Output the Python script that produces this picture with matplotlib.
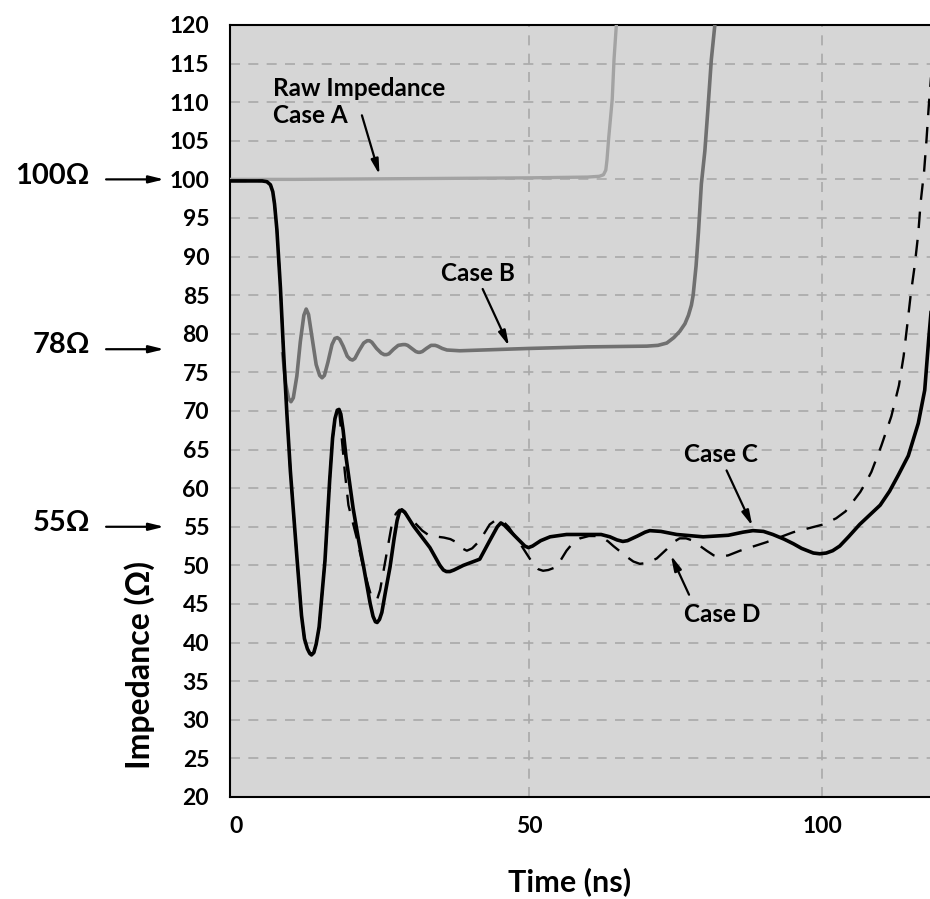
import matplotlib
matplotlib.use("Agg")
import matplotlib.pyplot as plt

plt.rcParams['font.family'] = ['Lato', 'DejaVu Serif']
plt.rcParams['font.weight'] = 'bold'

# Case A - raw impedance, 100 ohm line
case_a_t = [-1, 10, 30, 50, 60, 62.0, 62.7, 63.1, 63.3, 63.6, 64.2, 64.5, 64.9]
case_a_z = [100, 100, 100.1, 100.2, 100.3, 100.4, 100.6, 101.2, 102.5, 105.4, 110.4, 115.5, 120]

# Case B - 78 ohm line
case_b_t = [8.0, 8.5, 9.0, 9.4, 9.8, 10.4, 11.0, 11.6, 12.0, 12.4, 13.0, 13.7, 14.3, 14.7,
            15.1, 15.7, 16.4, 16.9, 17.3, 17.7, 18.3, 19.0, 19.5, 19.9, 20.3, 21.0, 21.8,
            22.4, 22.8, 23.2, 24.0, 24.8, 25.3, 25.7, 26.1, 26.9, 27.7, 28.5, 28.9, 29.3,
            30.0, 30.7, 31.1, 31.4, 31.8, 32.5, 33.3, 33.7, 34.0, 34.4, 35.2, 36.0, 38.2,
            50, 60, 70.1, 72.0, 73.5, 74.7, 75.7, 76.6, 77.2, 77.7, 78.0, 78.5, 78.9, 79.4,
            80.0, 80.5, 81.1, 81.7]
case_b_z = [77.4, 73.5, 71.6, 71.2, 71.7, 74.5, 79.0, 82.4, 83.2, 82.5, 79.5, 76.0, 74.6,
            74.3, 74.6, 76.3, 78.6, 79.4, 79.5, 79.3, 78.4, 77.1, 76.7, 76.6, 76.8, 77.8,
            78.8, 79.1, 79.1, 78.9, 78.1, 77.5, 77.3, 77.3, 77.4, 78.0, 78.5, 78.6, 78.6,
            78.5, 78.1, 77.7, 77.6, 77.6, 77.7, 78.1, 78.5, 78.5, 78.5, 78.4, 78.1, 77.9,
            77.8, 78.1, 78.3, 78.4, 78.5, 78.8, 79.5, 80.3, 81.3, 82.4, 83.7, 85.0, 88.8,
            93.1, 99.4, 103.7, 108.9, 115.5, 120]

# Case C - solid black
case_c_t = [-1, 4.5, 5.3, 5.9, 6.3, 6.6, 7.0, 7.6, 8.1, 8.7, 9.3, 10.4, 11.2, 11.7, 12.2,
            12.6, 12.9, 13.3, 13.7, 14.2, 15.2, 16.0, 16.5, 16.9, 17.3, 17.6, 17.9, 18.3,
            18.8, 20.0, 21.0, 21.8, 22.9, 23.4, 23.8, 24.1, 24.5, 24.9, 25.5, 26.3, 27.0,
            27.5, 27.9, 28.3, 28.8, 30.3, 33.1, 34.8, 35.4, 35.9, 36.5, 37.2, 38.8, 41.6,
            43.3, 44.6, 45.2, 45.8, 47.6, 49.3, 49.9, 50.6, 52.0, 53.6, 56.4, 62.3, 63.8,
            65.0, 66.0, 66.8, 68.5, 69.8, 70.6, 72.5, 75.2, 79.7, 84.0, 86.5, 88.2, 90.0,
            91.6, 93.5, 95.1, 96.5, 97.5, 98.5, 99.6, 100.7, 101.8, 103.0, 104.5, 106.4,
            109.9, 111.5, 113.0, 114.7, 116.4, 117.5, 118.2, 118.6]
case_c_z = [99.8, 99.8, 99.7, 99.3, 98.4, 96.8, 93.5, 86.0, 78.2, 69.7, 62.2, 51.2, 43.5,
            40.5, 39.2, 38.6, 38.4, 38.7, 39.8, 42.0, 50.6, 61.0, 66.5, 69.0, 70.1, 70.2,
            69.6, 67.5, 64.0, 57.4, 53.0, 49.8, 45.1, 43.4, 42.7, 42.6, 43.0, 43.9, 46.5,
            49.8, 53.5, 55.8, 56.9, 57.2, 56.9, 55.1, 52.3, 50.0, 49.4, 49.2, 49.2, 49.4,
            50.0, 50.8, 53.2, 55.0, 55.5, 55.2, 53.8, 52.5, 52.3, 52.5, 53.2, 53.7, 54.0,
            54.0, 53.7, 53.3, 53.1, 53.2, 53.8, 54.3, 54.5, 54.4, 54.0, 53.7, 53.9, 54.3,
            54.5, 54.4, 54.0, 53.4, 52.8, 52.2, 51.9, 51.6, 51.5, 51.6, 51.9, 52.5, 53.7,
            55.3, 57.8, 59.6, 61.7, 64.2, 68.4, 72.7, 79.5, 83.0]

# Case D - dashed black
case_d_t = [-1, 4.5, 5.3, 5.9, 6.3, 6.6, 7.0, 7.6, 8.1, 8.7, 9.3, 10.4, 11.2, 11.7, 12.2,
            12.6, 12.9, 13.3, 13.7, 14.2, 15.2, 16.0, 16.5, 16.9, 17.3, 17.6, 18.0, 18.6,
            19.2, 20.6, 21.6, 22.6, 23.1, 23.6, 24.1, 24.6, 25.5, 26.6, 27.3, 27.9, 28.5,
            30.3, 31.8, 33.1, 34.5, 35.5, 36.6, 37.6, 38.6, 39.4, 40.3, 41.6, 43.3, 44.2,
            44.9, 45.7, 46.5, 48.5, 50.7, 51.6, 52.4, 53.3, 54.7, 56.4, 57.6, 58.7, 60.2,
            61.6, 62.5, 63.5, 64.4, 66.7, 67.8, 68.9, 70.0, 71.0, 71.8, 73.5, 74.6, 75.7,
            76.8, 78.0, 79.2, 80.3, 81.5, 82.5, 84.0, 86.0, 90.5, 95.1, 100.2, 102.4, 104.0,
            105.3, 106.5, 107.5, 108.4, 110.1, 111.8, 113.1, 113.9, 114.5, 115.1, 115.8,
            116.4, 116.8, 117.4, 117.8, 118.2, 118.6]
case_d_z = [99.8, 99.8, 99.7, 99.3, 98.4, 96.8, 93.5, 86.0, 78.2, 69.7, 62.2, 51.2, 43.5,
            40.5, 39.2, 38.6, 38.4, 38.7, 39.8, 42.0, 50.6, 61.0, 66.5, 69.0, 70.1, 70.2,
            67.0, 62.0, 57.8, 53.6, 50.2, 47.3, 46.0, 45.5, 45.6, 46.8, 50.6, 55.3, 56.7,
            57.2, 57.0, 55.7, 54.5, 53.8, 53.7, 53.6, 53.4, 53.0, 52.2, 51.9, 52.2, 53.2,
            55.3, 55.8, 55.9, 55.6, 55.0, 52.8, 50.2, 49.5, 49.3, 49.4, 49.8, 51.9, 53.0,
            53.5, 53.8, 53.8, 53.6, 53.1, 52.5, 51.1, 50.5, 50.2, 50.3, 50.6, 50.9, 52.1,
            53.0, 53.5, 53.5, 53.2, 52.5, 51.9, 51.3, 51.1, 51.3, 51.9, 53.0, 54.3, 55.3,
            56.1, 57.0, 58.3, 59.5, 60.8, 62.1, 65.5, 69.3, 73.3, 77.1, 81.0, 85.0, 88.9,
            93.0, 97.0, 101.1, 105.1, 109.6, 113.5]

y_ticks = list(range(20, 121, 5))
x_ticks = [0, 50, 100]
ref_levels = [100, 78, 55]
ref_labels = ['100Ω', '78Ω', '55Ω']

fig = plt.figure(figsize=(9.30, 8.99), dpi=100)
ax = fig.add_axes([0.2473, 0.1135, 0.7527, 0.8587])
ax.set_facecolor('#d6d6d6')

ax.set_xlim(-1, 118.4)
ax.set_ylim(20, 120)
ax.set_yticks(y_ticks)
ax.set_xticks(x_ticks)
ax.tick_params(length=0, labelsize=16.5)
ax.tick_params(axis='y', pad=15)
ax.tick_params(axis='x', pad=14)

for y in y_ticks[1:-1]:
    ax.axhline(y, color='#a9a9a9', lw=1.2, ls=(0, (6, 5)), zorder=1)
for x in x_ticks[1:]:
    ax.axvline(x, color='#a9a9a9', lw=1.2, ls=(0, (6, 5)), zorder=1)

ax.plot(case_a_t, case_a_z, color='#a3a3a3', lw=2.4, zorder=3)
ax.plot(case_b_t, case_b_z, color='#707070', lw=2.6, zorder=3)
ax.plot(case_d_t, case_d_z, color='black', lw=1.7, ls=(0, (7, 5)), zorder=4)
ax.plot(case_c_t, case_c_z, color='black', lw=2.6, zorder=5)

for s in ['left', 'bottom', 'top']:
    ax.spines[s].set_linewidth(1.5)
ax.spines['right'].set_visible(False)

arrow = dict(arrowstyle='-|>,head_length=0.9,head_width=0.22', color='black', lw=1.6,
             shrinkA=0, shrinkB=0)
ax.annotate('', xy=(24.5, 100.6), xytext=(21.5, 108.3), arrowprops=arrow, zorder=6)
ax.text(6.4, 110.0, 'Raw Impedance\nCase A', fontsize=17.5, ha='left', va='center',
        linespacing=1.2)
ax.annotate('', xy=(46.6, 78.4), xytext=(42.1, 85.8), arrowprops=arrow, zorder=6)
ax.text(41.3, 87.8, 'Case B', fontsize=17.5, ha='center', va='center')
ax.annotate('', xy=(88.1, 55.1), xytext=(83.7, 62.3), arrowprops=arrow, zorder=6)
ax.text(82.8, 64.4, 'Case C', fontsize=17.5, ha='center', va='center')
ax.annotate('', xy=(74.2, 51.3), xytext=(77.3, 46.2), arrowprops=arrow, zorder=6)
ax.text(82.9, 43.6, 'Case D', fontsize=17.5, ha='center', va='center')

# reference level markers on the left
for lvl, lab in zip(ref_levels, ref_labels):
    ax.annotate('', xy=(-0.094, lvl), xytext=(-0.177, lvl),
                xycoords=('axes fraction', 'data'), textcoords=('axes fraction', 'data'),
                arrowprops=arrow, annotation_clip=False)
    ax.text(-0.2, lvl + 0.5, lab, transform=ax.get_yaxis_transform(),
            fontsize=21, ha='right', va='center')

fig.text(140 / 930, 1 - 665 / 899, 'Impedance (Ω)', rotation=90, fontsize=23,
         ha='center', va='center')
fig.text(570 / 930, 1 - 882 / 899, 'Time (ns)', fontsize=22, ha='center', va='center')

fig.savefig('out.png', dpi=100)
